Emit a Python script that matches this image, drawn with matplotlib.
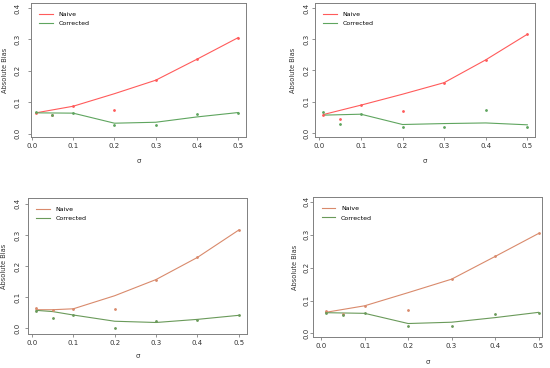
import numpy as np
import matplotlib
matplotlib.use("Agg")
import matplotlib.pyplot as plt

# sigma values
line_x = [0.01, 0.1, 0.2, 0.3, 0.4, 0.5]
pt_x = [0.01, 0.05, 0.1, 0.2, 0.3, 0.4, 0.5]
line_x3 = [0.01, 0.05, 0.1, 0.2, 0.3, 0.4, 0.5]

# panel 1 (top left)
naive_line_1 = [0.066, 0.087, 0.127, 0.170, 0.237, 0.306]
corr_line_1 = [0.066, 0.065, 0.033, 0.036, 0.053, 0.067]
naive_pts_1 = [0.064, 0.059, 0.087, 0.075, 0.170, 0.237, 0.306]
corr_pts_1 = [0.069, 0.059, 0.064, 0.026, 0.027, 0.062, 0.066]

# panel 2 (top right)
naive_line_2 = [0.059, 0.089, 0.124, 0.161, 0.234, 0.316]
corr_line_2 = [0.057, 0.060, 0.027, 0.030, 0.032, 0.026]
naive_pts_2 = [0.059, 0.044, 0.089, 0.071, 0.161, 0.232, 0.316]
corr_pts_2 = [0.068, 0.029, 0.060, 0.018, 0.019, 0.072, 0.018]

# panel 3 (bottom left)
naive_line_3 = [0.060, 0.060, 0.063, 0.105, 0.157, 0.228, 0.316]
corr_line_3 = [0.058, 0.054, 0.043, 0.023, 0.019, 0.029, 0.042]
naive_pts_3 = [0.064, 0.060, 0.063, 0.063, 0.157, 0.228, 0.316]
corr_pts_3 = [0.055, 0.033, 0.043, 0.001, 0.025, 0.026, 0.042]

# panel 4 (bottom right)
naive_line_4 = [0.064, 0.084, 0.124, 0.165, 0.234, 0.304]
corr_line_4 = [0.063, 0.061, 0.030, 0.034, 0.048, 0.064]
naive_pts_4 = [0.067, 0.060, 0.084, 0.070, 0.165, 0.234, 0.304]
corr_pts_4 = [0.063, 0.055, 0.061, 0.022, 0.023, 0.059, 0.062]

panels = [
    (line_x, naive_line_1, corr_line_1, naive_pts_1, corr_pts_1),
    (line_x, naive_line_2, corr_line_2, naive_pts_2, corr_pts_2),
    (line_x3, naive_line_3, corr_line_3, naive_pts_3, corr_pts_3),
    (line_x, naive_line_4, corr_line_4, naive_pts_4, corr_pts_4),
]

# box positions in pixels: left, right, top, bottom
boxes = [(31, 246, 3, 137), (315, 535, 3, 137), (28, 247, 198, 334), (313, 542, 197, 337)]
xlims = [(-0.002, 0.5185), (-0.0104, 0.5184), (-0.0097, 0.52), (-0.019, 0.508)]
ylims = [(-0.011, 0.416), (-0.013, 0.416), (-0.018, 0.419), (-0.011, 0.415)]
# axis label offsets from the box, pixels (ylabel left, xlabel below)
ylab_off = [26, 22, 24, 18]
xlab_off = [24, 24, 22, 25]
ytick_pad = [5.3, 1.7, 3.6, 0.8]
colors = [("#ff5b5b", "#5fa55f"), ("#ff5b5b", "#5fa55f"),
          ("#d98a6c", "#6a9a5a"), ("#d98a6c", "#6a9a5a")]

W, H = 550, 368
fig = plt.figure(figsize=(5.5, 3.68), dpi=100)
fig.patch.set_facecolor("white")
grey = "#808080"

for i, (lx, nl, cl, npts, cpts) in enumerate(panels):
    l, r, t, b = boxes[i]
    ax = fig.add_axes([l / W, (H - b) / H, (r - l) / W, (b - t) / H])
    rc, gc = colors[i]
    ax.plot(lx, nl, color=rc, lw=0.8, label="Naive")
    ax.plot(lx, cl, color=gc, lw=0.8, label="Corrected")
    ax.plot(pt_x, npts, ".", color=rc, ms=2)
    ax.plot(pt_x, cpts, ".", color=gc, ms=2)
    ax.set_xlim(*xlims[i])
    ax.set_ylim(*ylims[i])
    ax.set_xticks([0.0, 0.1, 0.2, 0.3, 0.4, 0.5])
    ax.set_yticks([0.0, 0.1, 0.2, 0.3, 0.4])
    ax.set_xticklabels(["0.0", "0.1", "0.2", "0.3", "0.4", "0.5"])
    ax.set_yticklabels(["0.0", "0.1", "0.2", "0.3", "0.4"], rotation=90, va="center")
    ax.tick_params(labelsize=5, length=2, width=0.6, color=grey, labelcolor="#333333")
    ax.tick_params(axis="x", pad=2.5)
    ax.tick_params(axis="y", pad=ytick_pad[i])
    for s in ax.spines.values():
        s.set_color(grey)
        s.set_linewidth(0.7)
    ax.set_ylabel("Absolute Bias", fontsize=4.8, color="#333333", va="center")
    ax.yaxis.set_label_coords(-ylab_off[i] / (r - l), 0.5)
    ax.set_xlabel("σ", fontsize=5, color="#333333", va="center")
    ax.xaxis.set_label_coords(0.5, -xlab_off[i] / (b - t))
    ax.legend(loc="upper left", frameon=False, fontsize=4.5, handlelength=2.1,
              borderaxespad=0.6, labelspacing=0.6, handletextpad=1.0,
              bbox_to_anchor=(0.01, 0.98))

fig.savefig("out.png", dpi=100)
